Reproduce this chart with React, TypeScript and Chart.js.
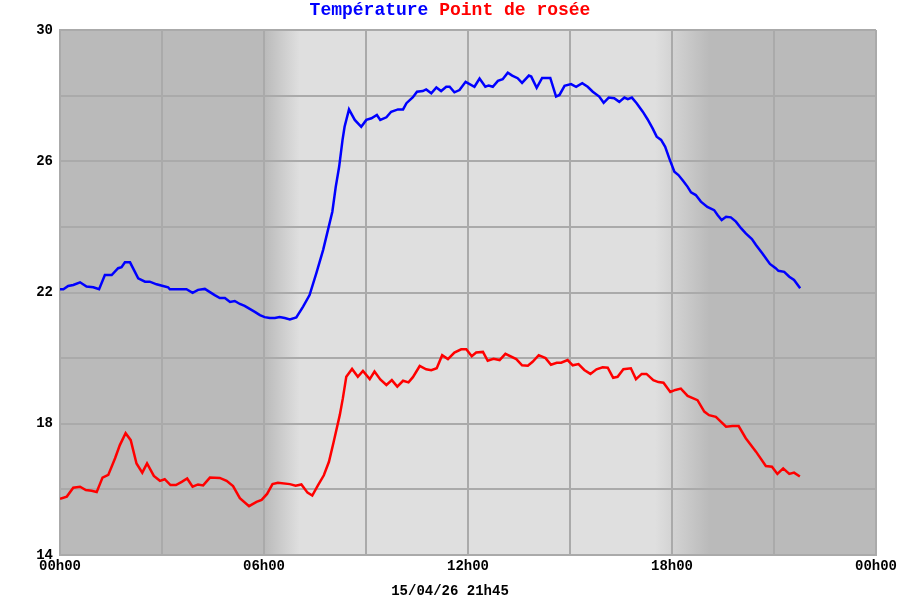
import React, { useEffect, useRef } from 'react';
import { Chart, registerables } from 'chart.js';

Chart.register(...registerables);

// ---- Data (hours since 00h00, °C) ----
const tempHours = [
  0.0, 0.10, 0.24, 0.39, 0.59, 0.78, 0.98, 1.15, 1.32, 1.52, 1.71, 1.81, 1.91, 2.06, 2.30, 2.50, 2.64, 2.84,
  3.03, 3.18, 3.23, 3.72, 3.90, 4.06, 4.26, 4.41, 4.55, 4.70, 4.85, 5.00, 5.14, 5.29, 5.43, 5.58, 5.73, 5.88,
  6.02, 6.17, 6.32, 6.46, 6.61, 6.76, 6.95, 7.15, 7.34, 7.54, 7.74, 7.88, 8.01, 8.11, 8.21, 8.31, 8.37, 8.50,
  8.67, 8.86, 9.01, 9.16, 9.32, 9.42, 9.60, 9.74, 9.94, 10.09, 10.19, 10.38, 10.50, 10.67, 10.77, 10.92, 11.07,
  11.21, 11.36, 11.46, 11.60, 11.75, 11.93, 12.19, 12.34, 12.51, 12.61, 12.73, 12.88, 13.02, 13.17, 13.30,
  13.46, 13.59, 13.79, 13.86, 14.02, 14.18, 14.42, 14.59, 14.69, 14.84, 15.03, 15.18, 15.36, 15.52, 15.67,
  15.86, 15.99, 16.14, 16.30, 16.45, 16.60, 16.70, 16.82, 16.96, 17.14, 17.28, 17.43, 17.55, 17.68, 17.80,
  17.92, 18.07, 18.19, 18.33, 18.46, 18.56, 18.70, 18.85, 19.04, 19.24, 19.34, 19.46, 19.59, 19.73, 19.88,
  20.03, 20.17, 20.35, 20.47, 20.66, 20.88, 21.05, 21.13, 21.30, 21.45, 21.59, 21.77,
];
const tempValues = [
  22.10, 22.10, 22.20, 22.23, 22.31, 22.18, 22.16, 22.10, 22.53, 22.53, 22.74, 22.77, 22.92, 22.92, 22.43, 22.33, 22.33, 22.25,
  22.20, 22.16, 22.10, 22.10, 21.99, 22.08, 22.11, 22.01, 21.92, 21.83, 21.83, 21.71, 21.74, 21.65, 21.59, 21.50, 21.41, 21.31,
  21.25, 21.22, 21.22, 21.25, 21.22, 21.18, 21.24, 21.57, 21.92, 22.59, 23.30, 23.90, 24.46, 25.22, 25.83, 26.65, 27.05, 27.58,
  27.26, 27.05, 27.26, 27.31, 27.41, 27.26, 27.34, 27.51, 27.58, 27.58, 27.77, 27.95, 28.12, 28.14, 28.19, 28.07, 28.25,
  28.14, 28.27, 28.27, 28.10, 28.17, 28.42, 28.27, 28.52, 28.27, 28.31, 28.27, 28.45, 28.50, 28.70, 28.61,
  28.53, 28.39, 28.61, 28.58, 28.24, 28.54, 28.54, 27.97, 28.02, 28.30, 28.35, 28.27, 28.38, 28.27, 28.12,
  27.97, 27.78, 27.94, 27.92, 27.81, 27.94, 27.89, 27.94, 27.77, 27.51, 27.28, 27.00, 26.75, 26.65, 26.44,
  26.09, 25.68, 25.58, 25.40, 25.22, 25.05, 24.97, 24.77, 24.61, 24.51, 24.36, 24.21, 24.31, 24.29, 24.16,
  23.96, 23.80, 23.63, 23.45, 23.19, 22.87, 22.74, 22.66, 22.63, 22.48, 22.38, 22.13,
];

const dewHours = [
  0.0, 0.20, 0.39, 0.59, 0.76, 0.93, 1.08, 1.25, 1.42, 1.62, 1.76, 1.93, 2.08, 2.25, 2.42, 2.56, 2.76, 2.94,
  3.08, 3.25, 3.41, 3.58, 3.74, 3.90, 4.06, 4.21, 4.41, 4.70, 4.90, 5.09, 5.29, 5.56, 5.78, 5.93, 6.09, 6.25,
  6.41, 6.76, 6.93, 7.10, 7.28, 7.42, 7.59, 7.76, 7.91, 8.05, 8.23, 8.32, 8.42, 8.59, 8.76, 8.91, 9.11, 9.25,
  9.42, 9.60, 9.76, 9.92, 10.09, 10.25, 10.38, 10.58, 10.77, 10.92, 11.08, 11.24, 11.41, 11.60, 11.80, 11.95,
  12.11, 12.24, 12.44, 12.58, 12.75, 12.93, 13.10, 13.42, 13.59, 13.76, 13.90, 14.08, 14.28, 14.44, 14.61,
  14.74, 14.93, 15.08, 15.25, 15.42, 15.60, 15.78, 15.96, 16.11, 16.27, 16.40, 16.57, 16.79, 16.94, 17.11,
  17.25, 17.45, 17.60, 17.75, 17.95, 18.10, 18.26, 18.46, 18.75, 18.95, 19.09, 19.29, 19.59, 19.78, 19.96,
  20.17, 20.47, 20.76, 20.94, 21.10, 21.27, 21.45, 21.59, 21.76,
];
const dewValues = [
  15.71, 15.78, 16.05, 16.08, 15.98, 15.96, 15.92, 16.36, 16.44, 16.95, 17.35, 17.71, 17.50, 16.79, 16.51, 16.79, 16.41, 16.26,
  16.31, 16.13, 16.13, 16.23, 16.33, 16.08, 16.15, 16.12, 16.36, 16.35, 16.26, 16.10, 15.73, 15.49, 15.62, 15.68, 15.86, 16.16,
  16.20, 16.16, 16.11, 16.15, 15.90, 15.81, 16.13, 16.43, 16.84, 17.45, 18.27, 18.78, 19.43, 19.67, 19.43, 19.61, 19.36, 19.59,
  19.35, 19.18, 19.33, 19.13, 19.31, 19.26, 19.42, 19.76, 19.66, 19.63, 19.69, 20.09, 19.97, 20.17, 20.27, 20.27,
  20.06, 20.17, 20.19, 19.92, 19.98, 19.94, 20.13, 19.97, 19.78, 19.77, 19.89, 20.09, 20.00, 19.80, 19.86,
  19.86, 19.94, 19.78, 19.82, 19.64, 19.52, 19.66, 19.72, 19.71, 19.40, 19.43, 19.66, 19.69, 19.36, 19.52,
  19.52, 19.33, 19.27, 19.25, 18.97, 19.03, 19.07, 18.85, 18.72, 18.37, 18.26, 18.21, 17.91, 17.93, 17.93,
  17.56, 17.15, 16.71, 16.69, 16.47, 16.64, 16.47, 16.51, 16.39,
];

const yLabelValues = [14, 18, 22, 26, 30];
const xTickLabels = ['00h00', '06h00', '12h00', '18h00', '00h00'];
const titleTemp = 'Température';
const titleDew = 'Point de rosée';
const caption = '15/04/26 21h45';

// day / night shading (hours)
const sunriseStart = 6.0;
const sunriseEnd = 7.05;
const sunsetStart = 17.5;
const sunsetEnd = 19.1;

const NIGHT = '#bababa';
const DAY = '#dfdfdf';
const GRID = '#aaaaaa';
const FONT_FAMILY = '"Liberation Mono", "Courier New", monospace';

const dayNightPlugin = {
  id: 'dayNight',
  beforeDraw(chart: any) {
    const { ctx, chartArea: a, scales } = chart;
    const x = scales.x;
    const w = a.right - a.left;
    const stop = (h: number) => Math.min(1, Math.max(0, (x.getPixelForValue(h) - a.left) / w));
    const g = ctx.createLinearGradient(a.left, 0, a.right, 0);
    g.addColorStop(0, NIGHT);
    g.addColorStop(stop(sunriseStart), NIGHT);
    g.addColorStop(stop(sunriseEnd), DAY);
    g.addColorStop(stop(sunsetStart), DAY);
    g.addColorStop(stop(sunsetEnd), NIGHT);
    g.addColorStop(1, NIGHT);
    ctx.save();
    ctx.fillStyle = g;
    ctx.fillRect(a.left, a.top, w, a.bottom - a.top);
    ctx.restore();
  },
};

const textPlugin = {
  id: 'titleAndCaption',
  afterDraw(chart: any) {
    const { ctx, width } = chart;
    ctx.save();
    ctx.font = 'bold 18px ' + FONT_FAMILY;
    ctx.textBaseline = 'middle';
    ctx.textAlign = 'left';
    const w1 = ctx.measureText(titleTemp + ' ').width;
    const w2 = ctx.measureText(titleDew).width;
    const start = width / 2 - (w1 + w2) / 2;
    ctx.fillStyle = '#0000ff';
    ctx.fillText(titleTemp, start, 10);
    ctx.fillStyle = '#ff0000';
    ctx.fillText(titleDew, start + w1, 10);

    ctx.font = 'bold 14px ' + FONT_FAMILY;
    ctx.textAlign = 'center';
    ctx.fillStyle = '#000000';
    ctx.fillText(caption, width / 2, 591);
    ctx.restore();
  },
};

export default function App() {
  const canvasRef = useRef<HTMLCanvasElement | null>(null);

  useEffect(() => {
    if (!canvasRef.current) return;
    const tickFont = { family: FONT_FAMILY, size: 14, weight: 'bold' as const };
    const chart = new Chart(canvasRef.current, {
      type: 'line',
      data: {
        datasets: [
          {
            label: titleTemp,
            data: tempHours.map((h, i) => ({ x: h, y: tempValues[i] })),
            borderColor: '#0000ff',
            borderWidth: 2.5,
            pointRadius: 0,
            tension: 0,
            fill: false,
          },
          {
            label: titleDew,
            data: dewHours.map((h, i) => ({ x: h, y: dewValues[i] })),
            borderColor: '#ff0000',
            borderWidth: 2.5,
            pointRadius: 0,
            tension: 0,
            fill: false,
          },
        ],
      },
      options: {
        animation: false,
        responsive: false,
        maintainAspectRatio: false,
        layout: { padding: { top: 30, right: 23, bottom: 0, left: 0 } },
        plugins: {
          legend: { display: false },
          tooltip: { enabled: false },
        },
        scales: {
          x: {
            type: 'linear',
            min: 0,
            max: 24,
            afterFit: (s: any) => {
              s.height = 45;
            },
            ticks: {
              stepSize: 3,
              autoSkip: false,
              maxRotation: 0,
              padding: 3,
              color: '#000',
              font: tickFont,
              callback: (v: any) => (Number(v) % 6 === 0 ? xTickLabels[Number(v) / 6] : ''),
            },
            grid: { color: GRID, lineWidth: 2, drawTicks: false },
            border: { color: GRID, width: 2 },
          },
          y: {
            min: 14,
            max: 30,
            afterFit: (s: any) => {
              s.width = 60;
            },
            ticks: {
              stepSize: 2,
              autoSkip: false,
              padding: 7,
              color: '#000',
              font: tickFont,
              callback: (v: any) => (yLabelValues.includes(Number(v)) ? String(v) : ''),
            },
            grid: { color: GRID, lineWidth: 2, drawTicks: false },
            border: { color: GRID, width: 2 },
          },
        },
      },
      plugins: [dayNightPlugin, textPlugin],
    });
    return () => chart.destroy();
  }, []);

  return (
    <div style={{ position: 'fixed', left: 0, top: 0, width: 900, height: 600, background: '#fff' }}>
      <canvas ref={canvasRef} width={900} height={600} style={{ display: 'block' }} />
    </div>
  );
}
